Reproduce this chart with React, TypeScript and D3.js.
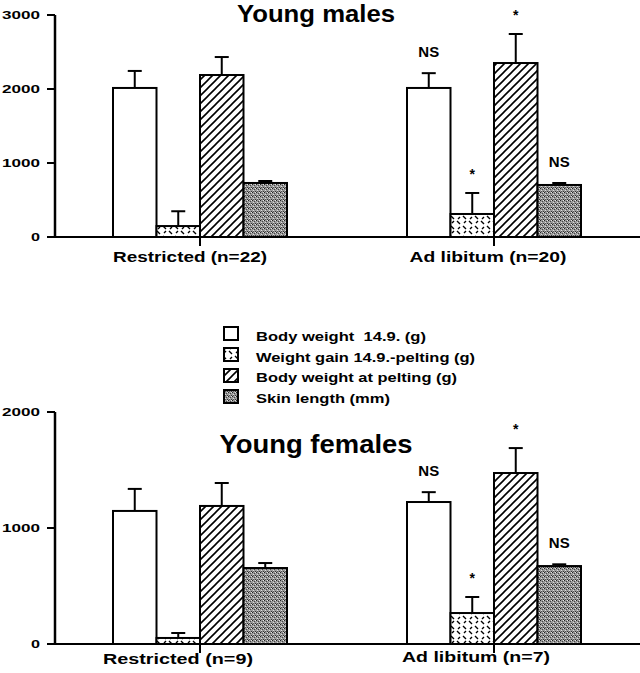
import React from "react";
import * as d3 from "d3";

const groupsMales = ["Restricted (n=22)", "Ad libitum (n=20)"];
const groupsFemales = ["Restricted (n=9)", "Ad libitum (n=7)"];
const series = [
  "Body weight  14.9. (g)",
  "Weight gain 14.9.-pelting (g)",
  "Body weight at pelting (g)",
  "Skin length (mm)",
];
const malesRestricted = [2014, 148, 2189, 730];
const malesRestrictedSE = [230, 200, 243, 27];
const malesAdLib = [2014, 311, 2351, 703];
const malesAdLibSE = [200, 284, 392, 27];
const femalesRestricted = [1147, 52, 1190, 655];
const femalesRestrictedSE = [190, 43, 198, 43];
const femalesAdLib = [1224, 267, 1474, 672];
const femalesAdLibSE = [85, 138, 215, 15];
const malesMarks = [[], ["NS", "*", "*", "NS"]];
const femalesMarks = [[], ["NS", "*", "*", "NS"]];
const malesTicks = [0, 1000, 2000, 3000];
const femalesTicks = [0, 1000, 2000];

const fills = ["#fff", "url(#gain)", "url(#hatch)", "url(#stip)"];
const legendLen = [170, 219, 201, 134];
const FONT = "'Liberation Sans', Arial, Helvetica, sans-serif";

type PanelProps = {
  title: string;
  titleSize: number;
  titleLen: number;
  titleY: number;
  groups: string[];
  means: number[][];
  ses: number[][];
  marks: string[][];
  ticks: number[];
  yMax: number;
  yRange: [number, number];
  labelY: number[];
  labelLen: number[];
  labelDx: number[];
};

function Panel(p: PanelProps) {
  const y = d3.scaleLinear().domain([0, p.yMax]).range(p.yRange);
  const x = d3.scaleBand<string>().domain(p.groups).range([53, 641]);
  const bw = x.bandwidth();
  const inner = d3
    .scaleBand<string>()
    .domain(series)
    .range([bw / 2 - 87, bw / 2 + 87]);
  const base = y(0);
  return (
    <g>
      <text
        x={316}
        y={p.titleY}
        textAnchor="middle"
        fontFamily={FONT}
        fontWeight="bold"
        fontSize={p.titleSize}
        textLength={p.titleLen}
        lengthAdjust="spacingAndGlyphs"
      >
        {p.title}
      </text>
      {p.groups.map((g, gi) => {
        const gx = x(g)!;
        return (
          <g key={g}>
            {series.map((s, si) => {
              const v = p.means[gi][si];
              const e = v + p.ses[gi][si];
              const bx = gx + inner(s)!;
              const w = inner.bandwidth();
              const cx = bx + w / 2;
              const mark = p.marks[gi][si];
              return (
                <g key={s}>
                  <line x1={cx} x2={cx} y1={y(v)} y2={y(e)} stroke="#000" strokeWidth={2} />
                  <line x1={cx - 7} x2={cx + 7} y1={y(e)} y2={y(e)} stroke="#000" strokeWidth={2} />
                  <rect
                    x={bx}
                    y={y(v)}
                    width={w}
                    height={base - y(v)}
                    fill={fills[si]}
                    stroke="#000"
                    strokeWidth={2}
                  />
                  {mark && (
                    <text
                      x={cx}
                      y={y(e) - (mark === "*" ? 14 : 16)}
                      textAnchor="middle"
                      fontFamily={FONT}
                      fontWeight="bold"
                      fontSize={mark === "*" ? 14 : 15}
                    >
                      {mark}
                    </text>
                  )}
                </g>
              );
            })}
            <line
              x1={gx + bw / 2}
              x2={gx + bw / 2}
              y1={base}
              y2={base + 9}
              stroke="#000"
              strokeWidth={2}
            />
            <text
              x={gx + bw / 2 + p.labelDx[gi]}
              y={p.labelY[gi]}
              textAnchor="middle"
              fontFamily={FONT}
              fontWeight="bold"
              fontSize={15}
              textLength={p.labelLen[gi]}
              lengthAdjust="spacingAndGlyphs"
            >
              {g}
            </text>
          </g>
        );
      })}
      <line x1={47} x2={640} y1={base} y2={base} stroke="#000" strokeWidth={2} />
      <line x1={55} x2={55} y1={y(p.yMax)} y2={base} stroke="#000" strokeWidth={2.5} />
      {p.ticks.map((t) => (
        <g key={t}>
          <line x1={47} x2={55} y1={y(t)} y2={y(t)} stroke="#000" strokeWidth={2} />
          <text
            x={40}
            y={y(t) + 4}
            textAnchor="end"
            fontFamily={FONT}
            fontWeight="bold"
            fontSize={11}
            textLength={t === 0 ? 9 : 38}
            lengthAdjust="spacingAndGlyphs"
          >
            {t}
          </text>
        </g>
      ))}
    </g>
  );
}

export default function App() {
  return (
    <svg
      width={640}
      height={673}
      style={{ position: "absolute", left: 0, top: 0, background: "#fff" }}
    >
      <defs>
        <pattern id="hatch" patternUnits="userSpaceOnUse" width={8} height={8}>
          <rect width={8} height={8} fill="#fff" />
          <path d="M-1,9 L9,-1 M-2,2 L2,-2 M6,10 L10,6" stroke="#000" strokeWidth={1.6} />
        </pattern>
        <pattern id="gain" patternUnits="userSpaceOnUse" width={12} height={10}>
          <rect width={12} height={10} fill="#fff" />
          <path d="M1,1 l3,3 M7,6 l3,3 M8,3 l2,-2 M2,9 l2,-2" stroke="#000" strokeWidth={1.4} />
        </pattern>
        <pattern id="stip" patternUnits="userSpaceOnUse" width={4} height={4}>
          <rect width={4} height={4} fill="#9a9a9a" />
          <rect x={0} y={0} width={1} height={1} fill="#222" />
          <rect x={2} y={1} width={1} height={1} fill="#444" />
          <rect x={1} y={2} width={1} height={1} fill="#ddd" />
          <rect x={3} y={3} width={1} height={1} fill="#333" />
          <rect x={3} y={0} width={1} height={1} fill="#e5e5e5" />
          <rect x={1} y={3} width={1} height={1} fill="#555" />
        </pattern>
      </defs>
      <Panel
        title="Young males"
        titleSize={23}
        titleLen={158}
        titleY={22}
        groups={groupsMales}
        means={[malesRestricted, malesAdLib]}
        ses={[malesRestrictedSE, malesAdLibSE]}
        marks={malesMarks}
        ticks={malesTicks}
        yMax={3000}
        yRange={[237, 15]}
        labelY={[262, 262]}
        labelLen={[154, 157]}
        labelDx={[-10, -6]}
      />
      <Panel
        title="Young females"
        titleSize={25}
        titleLen={193}
        titleY={453}
        groups={groupsFemales}
        means={[femalesRestricted, femalesAdLib]}
        ses={[femalesRestrictedSE, femalesAdLibSE]}
        marks={femalesMarks}
        ticks={femalesTicks}
        yMax={2000}
        yRange={[644, 412]}
        labelY={[664, 662]}
        labelLen={[150, 148]}
        labelDx={[-22, -18]}
      />
      <g>
        {series.map((s, i) => (
          <g key={s}>
            <rect
              x={224}
              y={327 + i * 21}
              width={14}
              height={13}
              fill={fills[i]}
              stroke="#000"
              strokeWidth={2}
            />
            <text
              x={256}
              y={341 + i * 20.5}
              fontFamily={FONT}
              fontWeight="bold"
              fontSize={12.5}
              textLength={legendLen[i]}
              lengthAdjust="spacingAndGlyphs"
              style={{ whiteSpace: "pre" }}
            >
              {s}
            </text>
          </g>
        ))}
      </g>
    </svg>
  );
}
